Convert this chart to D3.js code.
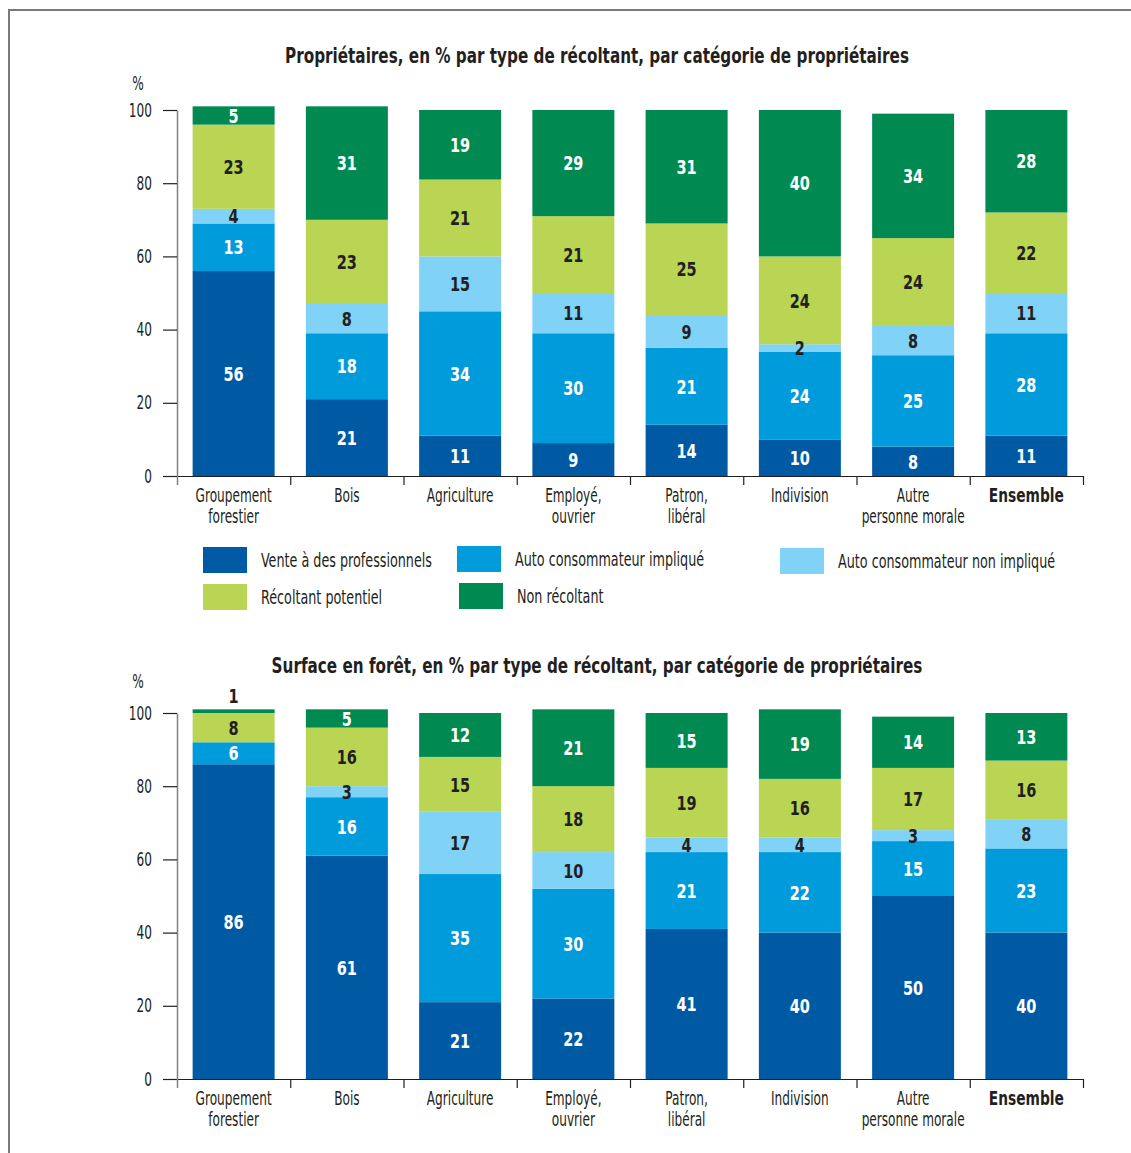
<!DOCTYPE html>
<html>
<head>
<meta charset="utf-8">
<title>Récoltants par catégorie de propriétaires</title>
<script src="https://d3js.org/d3.v7.min.js"></script>
<style>
    body { margin: 0; background: #fff; }
    text { font-family: "Liberation Sans Narrow", "DejaVu Sans Condensed", "Liberation Sans", sans-serif; fill: #231f20; }
</style>
</head>
<body>
<script>

    // categories (one entry per line of the label)
    let categories = [["Groupement", "forestier"], ["Bois"], ["Agriculture"], ["Employé,", "ouvrier"],
                      ["Patron,", "libéral"], ["Indivision"], ["Autre", "personne morale"], ["Ensemble"]];
    let seriesNames = ["Vente à des professionnels", "Auto consommateur impliqué",
                       "Auto consommateur non impliqué", "Récoltant potentiel", "Non récoltant"];
    let yTicks = [0, 20, 40, 60, 80, 100];

    // Propriétaires, en %
    let propVente       = [56, 21, 11,  9, 14, 10,  8, 11];
    let propAutoImpl    = [13, 18, 34, 30, 21, 24, 25, 28];
    let propAutoNonImpl = [ 4,  8, 15, 11,  9,  2,  8, 11];
    let propPotentiel   = [23, 23, 21, 21, 25, 24, 24, 22];
    let propNonRecolt   = [ 5, 31, 19, 29, 31, 40, 34, 28];

    // Surface en forêt, en %
    let surfVente       = [86, 61, 21, 22, 41, 40, 50, 40];
    let surfAutoImpl    = [ 6, 16, 35, 30, 21, 22, 15, 23];
    let surfAutoNonImpl = [ 0,  3, 17, 10,  4,  4,  3,  8];
    let surfPotentiel   = [ 8, 16, 15, 18, 19, 16, 17, 16];
    let surfNonRecolt   = [ 1,  5, 12, 21, 15, 19, 14, 13];

    let colors      = ["#005aa3", "#009bdb", "#80d2f6", "#b9d553", "#008a52"];
    let labelColors = ["#ffffff", "#ffffff", "#231f20", "#231f20", "#ffffff"];

    let width = 1131, height = 1153;
    let svg = d3.select("body").append("svg")
        .attr("width", width)
        .attr("height", height);

    // frame
    svg.append("path")
        .attr("d", "M9," + height + "V10H" + width)
        .attr("fill", "none")
        .attr("stroke", "#7a7a7a")
        .attr("stroke-width", 2);

    let title1 = "Propriétaires, en % par type de récoltant, par catégorie de propriétaires";
    let title2 = "Surface en forêt, en % par type de récoltant, par catégorie de propriétaires";

    // the original font is very condensed: measure and squeeze
    function fitFactor(str, size, weight, target) {
        let t = svg.append("text").attr("font-size", size).attr("font-weight", weight).text(str);
        let w = t.node().getComputedTextLength();
        t.remove();
        return target / w;
    }
    let kReg = fitFactor("Vente à des professionnels", 20, 400, 171);
    let kBold = fitFactor(title1, 21, 700, 624);

    function condense(sel, k) {
        sel.each(function () {
            let w = this.getComputedTextLength();
            if (w > 0) {
                this.setAttribute("textLength", w * k);
                this.setAttribute("lengthAdjust", "spacingAndGlyphs");
            }
        });
    }

    let x = d3.scaleBand()
        .domain(d3.range(categories.length))
        .range([177, 1083])
        .paddingInner(0.276)
        .paddingOuter(0.138);

    let xEdges = d3.scaleLinear()
        .domain([0, categories.length])
        .range([177, 1083]);

    function drawChart(cols, title, y0, y100, titleY, pctY) {
        let rows = categories.map((c, i) => {
            let r = { i: i };
            cols.forEach((s, j) => r["s" + j] = s[i]);
            return r;
        });
        let keys = cols.map((s, j) => "s" + j);
        let series = d3.stack().keys(keys)(rows);

        let y = d3.scaleLinear().domain([0, 100]).range([y0, y100]);

        let g = svg.append("g");

        g.append("text")
            .attr("x", 597).attr("y", titleY)
            .attr("text-anchor", "middle")
            .attr("font-size", 21).attr("font-weight", 700)
            .text(title)
            .call(condense, kBold);

        g.append("text")
            .attr("x", 138).attr("y", pctY)
            .attr("text-anchor", "middle")
            .attr("font-size", 19)
            .text("%")
            .call(condense, kReg);

        // bars
        g.append("g")
            .selectAll("g")
            .data(series)
            .join("g")
                .attr("fill", (d, j) => colors[j])
            .selectAll("rect")
            .data(d => d)
            .join("rect")
                .attr("x", d => x(d.data.i))
                .attr("y", d => y(d[1]))
                .attr("height", d => y(d[0]) - y(d[1]))
                .attr("width", x.bandwidth());

        // value labels
        let labels = [];
        series.forEach((s, j) => s.forEach(d => {
            let v = d[1] - d[0];
            if (v <= 0) return;
            let inside = v > 1;
            labels.push({
                v: v, j: j, i: d.data.i,
                ly: inside ? (y(d[0]) + y(d[1])) / 2 : y(d[1]) - 14,
                fill: inside ? labelColors[j] : "#231f20"
            });
        }));
        g.append("g")
            .selectAll("text")
            .data(labels)
            .join("text")
                .attr("x", d => x(d.i) + x.bandwidth() / 2)
                .attr("y", d => d.ly)
                .attr("dy", "0.36em")
                .attr("text-anchor", "middle")
                .attr("font-size", 20).attr("font-weight", 700)
                .style("fill", d => d.fill)
                .text(d => d.v)
                .call(condense, kBold);

        // y axis
        let yAxis = g.append("g")
            .attr("transform", "translate(177,0)")
            .call(d3.axisLeft(y).tickValues(yTicks).tickSize(14).tickSizeOuter(0).tickPadding(11));
        yAxis.select(".domain").attr("stroke", "#808080").attr("stroke-width", 1.5);
        yAxis.selectAll(".tick line").attr("stroke", "#231f20").attr("stroke-width", 1.2);
        yAxis.selectAll(".tick text")
            .attr("font-size", 19)
            .attr("font-family", null)
            .style("fill", "#231f20")
            .call(condense, kReg);

        // x axis with ticks at category boundaries
        let xAxis = g.append("g")
            .attr("transform", "translate(0," + y0 + ")")
            .call(d3.axisBottom(xEdges).tickValues(d3.range(categories.length + 1)).tickSize(9).tickSizeOuter(0).tickFormat(""));
        xAxis.select(".domain").attr("stroke", "#231f20").attr("stroke-width", 1.2);
        xAxis.selectAll(".tick line").attr("stroke", "#231f20").attr("stroke-width", 1.2);
        xAxis.selectAll(".tick").filter(d => d === 0).select("line")
            .attr("stroke", "#808080").attr("stroke-width", 1.5);

        // category labels
        let cat = g.append("g")
            .selectAll("text")
            .data(categories)
            .join("text")
                .attr("text-anchor", "middle")
                .attr("font-size", 19)
                .attr("font-weight", (d, i) => i === categories.length - 1 ? 700 : 400);
        cat.selectAll("tspan")
            .data((d, i) => d.map(l => ({ l: l, i: i })))
            .join("tspan")
                .attr("x", d => x(d.i) + x.bandwidth() / 2)
                .attr("y", (d, k) => y0 + 26 + k * 21)
                .text(d => d.l)
                .each(function (d) {
                    d3.select(this).call(condense, d.i === categories.length - 1 ? kBold : kReg);
                });
    }

    drawChart([propVente, propAutoImpl, propAutoNonImpl, propPotentiel, propNonRecolt], title1, 476, 110, 63, 90);
    drawChart([surfVente, surfAutoImpl, surfAutoNonImpl, surfPotentiel, surfNonRecolt], title2, 1079, 713, 673, 688);

    // legend
    let legendPos = [[203, 547], [457, 546], [780, 548], [203, 584], [459, 583]];
    let legend = svg.append("g")
        .selectAll("g")
        .data(seriesNames)
        .join("g")
            .attr("transform", (d, j) => "translate(" + legendPos[j][0] + "," + legendPos[j][1] + ")");
    legend.append("rect")
        .attr("width", 44).attr("height", 26)
        .attr("fill", (d, j) => colors[j]);
    legend.append("text")
        .attr("x", 58).attr("y", 13).attr("dy", "0.36em")
        .attr("font-size", 20)
        .text(d => d)
        .call(condense, kReg);

</script>
</body>
</html>
